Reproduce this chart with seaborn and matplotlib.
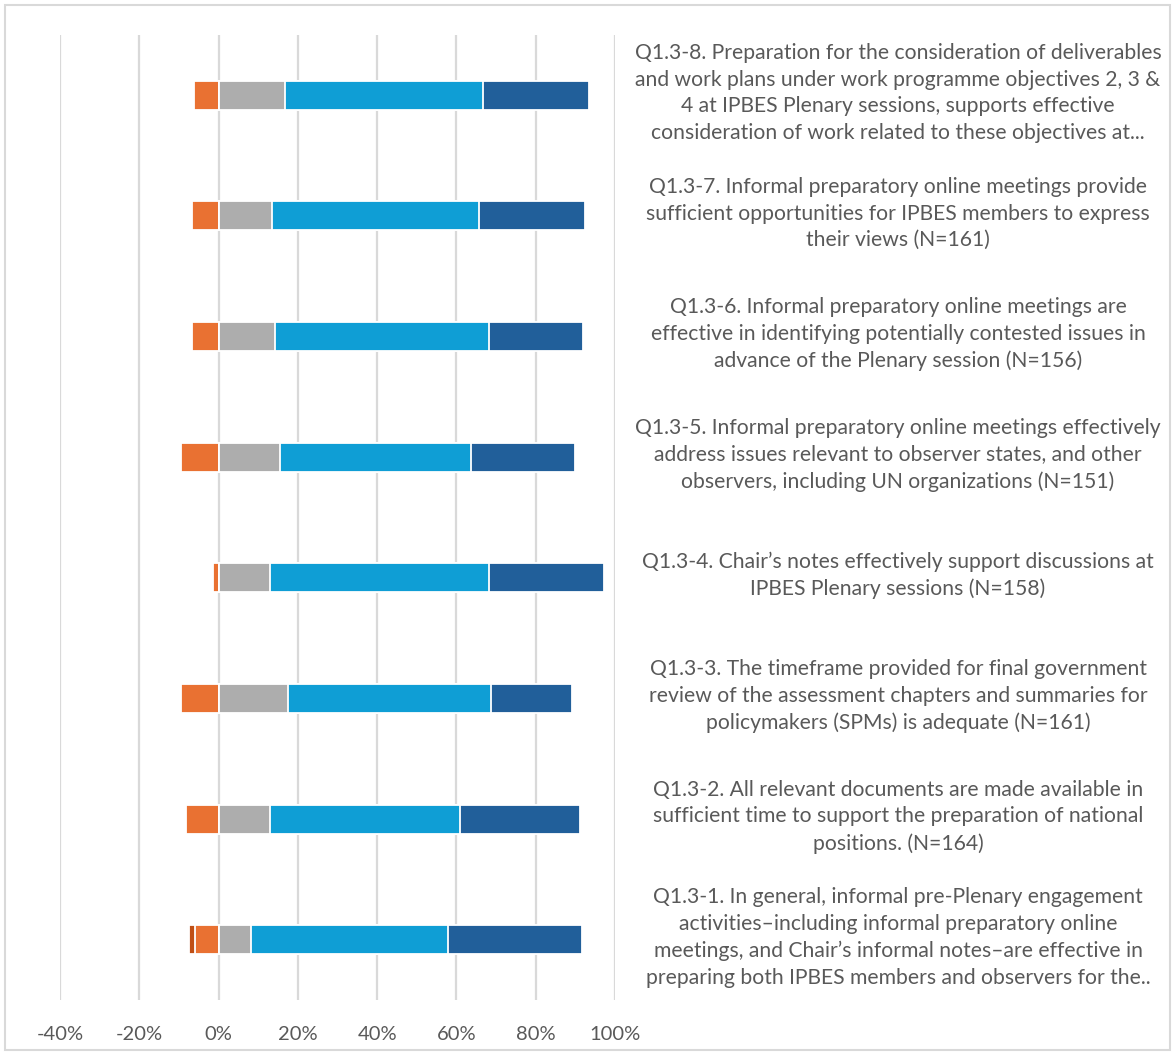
import matplotlib
matplotlib.use("Agg")
import matplotlib.pyplot as plt
import seaborn as sns
import pandas as pd
import numpy as np
from matplotlib.patches import Rectangle

# ---------------- data ----------------
questions = ["Q1.3-8", "Q1.3-7", "Q1.3-6", "Q1.3-5", "Q1.3-4", "Q1.3-3", "Q1.3-2", "Q1.3-1"]
labels = [
    "Q1.3-8. Preparation for the consideration of deliverables\nand work plans under work programme objectives 2, 3 &\n4 at IPBES Plenary sessions, supports effective\nconsideration of work related to these objectives at...",
    "Q1.3-7. Informal preparatory online meetings provide\nsufficient opportunities for IPBES members to express\ntheir views (N=161)",
    "Q1.3-6. Informal preparatory online meetings are\neffective in identifying potentially contested issues in\nadvance of the Plenary session (N=156)",
    "Q1.3-5. Informal preparatory online meetings effectively\naddress issues relevant to observer states, and other\nobservers, including UN organizations (N=151)",
    "Q1.3-4. Chair\u2019s notes effectively support discussions at\nIPBES Plenary sessions (N=158)",
    "Q1.3-3. The timeframe provided for final government\nreview of the assessment chapters and summaries for\npolicymakers (SPMs) is adequate (N=161)",
    "Q1.3-2. All relevant documents are made available in\nsufficient time to support the preparation of national\npositions. (N=164)",
    "Q1.3-1. In general, informal pre-Plenary engagement\nactivities\u2013including informal preparatory online\nmeetings, and Chair\u2019s informal notes\u2013are effective in\npreparing both IPBES members and observers for the..",
]
strongly_disagree = [0.0, 0.0, 0.0, 0.0, 0.0, 0.0, 0.0, 1.6]
disagree          = [6.2, 6.8, 6.7, 9.5, 1.4, 9.4, 8.1, 5.9]
neutral           = [16.7, 13.5, 14.2, 15.5, 12.9, 17.5, 12.9, 8.2]
agree             = [49.9, 52.1, 53.9, 48.1, 55.3, 51.3, 48.0, 49.6]
strongly_agree    = [26.9, 26.9, 23.8, 26.3, 29.0, 20.4, 30.3, 34.0]
x_ticks = [-40, -20, 0, 20, 40, 60, 80, 100]
x_tick_labels = ["-40%", "-20%", "0%", "20%", "40%", "60%", "80%", "100%"]

# colours
c_sd = "#C04F15"
c_d = "#E97132"
c_n = "#ADADAD"
c_a = "#0F9ED5"
c_sa = "#215F9A"
text_col = "#595959"
grid_col = "#D9D9D9"

df = pd.DataFrame({
    "q": questions,
    "sd": strongly_disagree, "d": disagree, "n": neutral,
    "a": agree, "sa": strongly_agree,
})
df["neg_outer"] = -(df["sd"] + df["d"])
df["neg_inner"] = -df["d"]
df["pos3"] = df["n"] + df["a"] + df["sa"]
df["pos2"] = df["n"] + df["a"]
df["pos1"] = df["n"]

sns.set_theme(style="white")
plt.rcParams["font.family"] = ["Lato", "DejaVu Sans"]

fig = plt.figure(figsize=(11.75, 10.55), dpi=100)
ax = fig.add_axes([60 / 1175, 1 - 1000 / 1055, 555 / 1175, 965 / 1055])

bw = 0.24
layers = [("neg_outer", c_sd), ("neg_inner", c_d), ("pos3", c_sa), ("pos2", c_a), ("pos1", c_n)]
for col, colr in layers:
    sns.barplot(data=df, x=col, y="q", order=questions, orient="h", color=colr,
                width=bw, edgecolor="white", linewidth=1.3, ax=ax, zorder=3,
                saturation=1)

ax.set_xlim(-40, 100)
ax.set_ylim(len(questions) - 0.5, -0.5)
ax.set_xticks(x_ticks)
ax.set_xticklabels(x_tick_labels, color=text_col, fontsize=14.5)
ax.tick_params(axis="x", length=0, pad=19)
ax.set_yticks([])
ax.set_xlabel("")
ax.set_ylabel("")
for s in ax.spines.values():
    s.set_visible(False)
ax.xaxis.grid(True, color=grid_col, linewidth=1.6, zorder=0)
ax.set_axisbelow(True)

ytrans = ax.get_yaxis_transform()
for i, lab in enumerate(labels):
    ax.text((898 - 60) / 555, i - 0.02, lab, transform=ytrans, ha="center", va="center",
            multialignment="center", fontsize=15.2, color=text_col, linespacing=1.42,
            clip_on=False)

fig.patches.append(Rectangle((5 / 1175, 5 / 1055), 1165 / 1175, 1045 / 1055,
                             transform=fig.transFigure, fill=False,
                             edgecolor=grid_col, linewidth=1.5))

fig.savefig("out.png", dpi=100, facecolor="white")
